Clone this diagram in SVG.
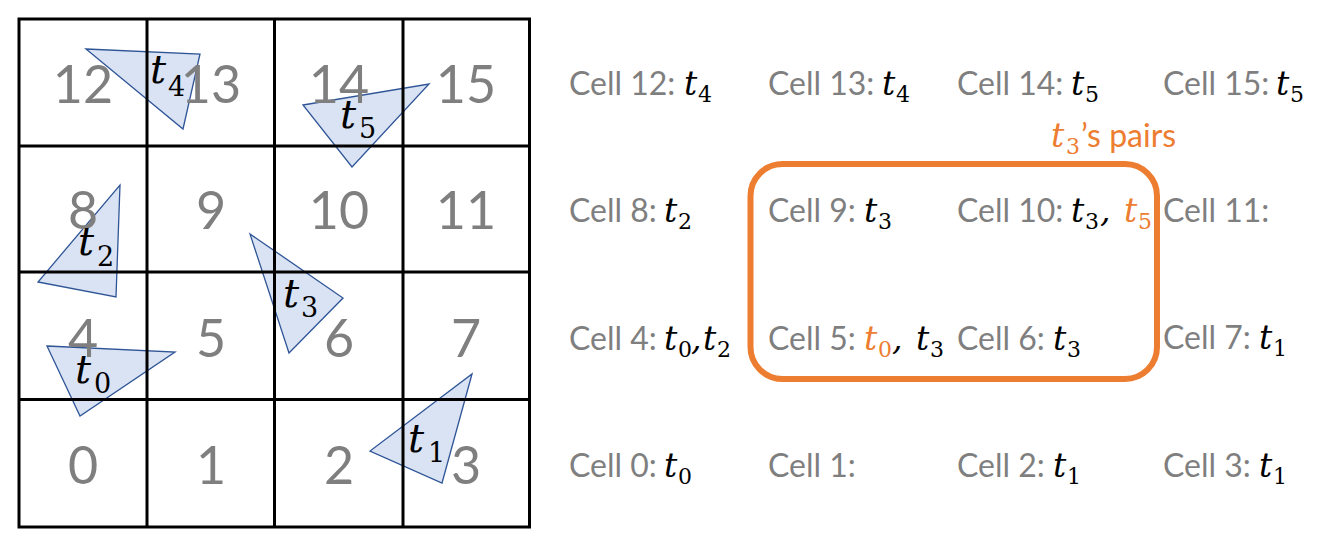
<svg xmlns="http://www.w3.org/2000/svg" width="1326" height="538" viewBox="0 0 1326 538">
<style>
.tri{fill:#DAE3F3;stroke:#2F5597;stroke-width:1.3;stroke-linejoin:miter}
.gl{stroke:#000;stroke-width:3;fill:none}
.num{font-family:Lato,"Liberation Sans",sans-serif;font-size:52px;fill:#7F7F7F;text-anchor:middle}
.lbl{font-family:Lato,"Liberation Sans",sans-serif;font-size:32px;fill:#7F7F7F}
.mt{font-family:"DejaVu Serif",serif;font-style:italic;font-size:33px;fill:#000}
.ms{font-family:"DejaVu Serif",serif;font-size:22px;fill:#000}
.bt{font-family:"DejaVu Serif",serif;font-style:italic;font-size:40px;fill:#000}
.bs{font-family:"DejaVu Serif",serif;font-size:27px;fill:#000}
.or{fill:#ED7D31}
.orl{font-family:Lato,"Liberation Sans",sans-serif;font-size:32px;fill:#ED7D31}
</style>
<rect width="1326" height="538" fill="#fff"/>
<g id="triangles">
<polygon id="tri-t4" class="tri" points="86,49 200,54 183,129"/>
<polygon id="tri-t5" class="tri" points="303,105 429,84 352,167"/>
<polygon id="tri-t2" class="tri" points="120,185 116,297 38,282"/>
<polygon id="tri-t3" class="tri" points="250,234 343,298 289,353"/>
<polygon id="tri-t0" class="tri" points="47,346 175,352 80,416"/>
<polygon id="tri-t1" class="tri" points="472,374 442,483 370,451"/>
</g>
<g id="grid">
<rect class="gl" x="19" y="19" width="510.5" height="508"/>
<line class="gl" x1="147" y1="19" x2="147" y2="527"/>
<line class="gl" x1="274.5" y1="19" x2="274.5" y2="527"/>
<line class="gl" x1="403" y1="19" x2="403" y2="527"/>
<line class="gl" x1="19" y1="146" x2="529.5" y2="146"/>
<line class="gl" x1="19" y1="272" x2="529.5" y2="272"/>
<line class="gl" x1="19" y1="399.5" x2="529.5" y2="399.5"/>
</g>
<g id="cell-numbers">
<text class="num" x="83" y="103">12</text>
<text class="num" x="211" y="103">13</text>
<text class="num" x="339" y="103">14</text>
<text class="num" x="466" y="103">15</text>
<text class="num" x="83" y="229">8</text>
<text class="num" x="211" y="229">9</text>
<text class="num" x="339" y="229">10</text>
<text class="num" x="466" y="229">11</text>
<text class="num" x="83" y="356.5">4</text>
<text class="num" x="211" y="356.5">5</text>
<text class="num" x="339" y="356.5">6</text>
<text class="num" x="466" y="356.5">7</text>
<text class="num" x="83" y="483.5">0</text>
<text class="num" x="211" y="483.5">1</text>
<text class="num" x="339" y="483.5">2</text>
<text class="num" x="466" y="483.5">3</text>
</g>
<g id="triangle-labels">
<text><tspan class="bt" x="150" y="83">t</tspan><tspan class="bs" x="168" y="96">4</tspan></text>
<text><tspan class="bt" x="340" y="128">t</tspan><tspan class="bs" x="359" y="138">5</tspan></text>
<text><tspan class="bt" x="78" y="255">t</tspan><tspan class="bs" x="97" y="266">2</tspan></text>
<text><tspan class="bt" x="283" y="306.5">t</tspan><tspan class="bs" x="301" y="316.5">3</tspan></text>
<text><tspan class="bt" x="75" y="383">t</tspan><tspan class="bs" x="94" y="393">0</tspan></text>
<text><tspan class="bt" x="408" y="451.5">t</tspan><tspan class="bs" x="428" y="461.5">1</tspan></text>
</g>
<g id="highlight">
<rect x="750.5" y="164" width="406.5" height="215" rx="32" fill="none" stroke="#ED7D31" stroke-width="6"/>
<text><tspan class="mt or" x="1051" y="147">t</tspan><tspan class="ms or" x="1066" y="154">3</tspan><tspan class="orl" x="1081" y="147">’s pairs</tspan></text>
</g>
<g id="cell-lists">
<g id="list-12"><text y="95"><tspan class="lbl" x="569">Cell 12:</tspan><tspan class="mt" x="684">t</tspan><tspan class="ms" x="698" y="102">4</tspan></text></g>
<g id="list-13"><text y="95"><tspan class="lbl" x="768">Cell 13:</tspan><tspan class="mt" x="882">t</tspan><tspan class="ms" x="896" y="102">4</tspan></text></g>
<g id="list-14"><text y="95"><tspan class="lbl" x="957">Cell 14:</tspan><tspan class="mt" x="1071">t</tspan><tspan class="ms" x="1085" y="102">5</tspan></text></g>
<g id="list-15"><text y="95"><tspan class="lbl" x="1163">Cell 15:</tspan><tspan class="mt" x="1276">t</tspan><tspan class="ms" x="1290" y="102">5</tspan></text></g>
<g id="list-8"><text y="222"><tspan class="lbl" x="569">Cell 8:</tspan><tspan class="mt" x="664">t</tspan><tspan class="ms" x="678" y="229">2</tspan></text></g>
<g id="list-9"><text y="222"><tspan class="lbl" x="768">Cell 9:</tspan><tspan class="mt" x="864">t</tspan><tspan class="ms" x="878" y="229">3</tspan></text></g>
<g id="list-10"><text y="222"><tspan class="lbl" x="957">Cell 10:</tspan><tspan class="mt" x="1071">t</tspan><tspan class="ms" x="1085" y="229">3</tspan><tspan class="mt" x="1100" y="222">,</tspan><tspan class="mt or" x="1124">t</tspan><tspan class="ms or" x="1138" y="229">5</tspan></text></g>
<g id="list-11"><text y="222"><tspan class="lbl" x="1163">Cell 11:</tspan></text></g>
<g id="list-4"><text y="350"><tspan class="lbl" x="569">Cell 4:</tspan><tspan class="mt" x="664">t</tspan><tspan class="ms" x="678" y="357">0</tspan><tspan class="mt" x="691" y="350">,</tspan><tspan class="mt" x="703">t</tspan><tspan class="ms" x="717" y="357">2</tspan></text></g>
<g id="list-5"><text y="350"><tspan class="lbl" x="768">Cell 5:</tspan><tspan class="mt or" x="864">t</tspan><tspan class="ms or" x="878" y="357">0</tspan><tspan class="mt" x="892" y="350">,</tspan><tspan class="mt" x="916">t</tspan><tspan class="ms" x="930" y="357">3</tspan></text></g>
<g id="list-6"><text y="350"><tspan class="lbl" x="957">Cell 6:</tspan><tspan class="mt" x="1053">t</tspan><tspan class="ms" x="1067" y="357">3</tspan></text></g>
<g id="list-7"><text y="349"><tspan class="lbl" x="1163">Cell 7:</tspan><tspan class="mt" x="1259">t</tspan><tspan class="ms" x="1273" y="356">1</tspan></text></g>
<g id="list-0"><text y="477"><tspan class="lbl" x="569">Cell 0:</tspan><tspan class="mt" x="664">t</tspan><tspan class="ms" x="678" y="484">0</tspan></text></g>
<g id="list-1"><text y="477"><tspan class="lbl" x="768">Cell 1:</tspan></text></g>
<g id="list-2"><text y="477"><tspan class="lbl" x="957">Cell 2:</tspan><tspan class="mt" x="1053">t</tspan><tspan class="ms" x="1067" y="484">1</tspan></text></g>
<g id="list-3"><text y="477"><tspan class="lbl" x="1163">Cell 3:</tspan><tspan class="mt" x="1259">t</tspan><tspan class="ms" x="1273" y="484">1</tspan></text></g>
</g>
</svg>
